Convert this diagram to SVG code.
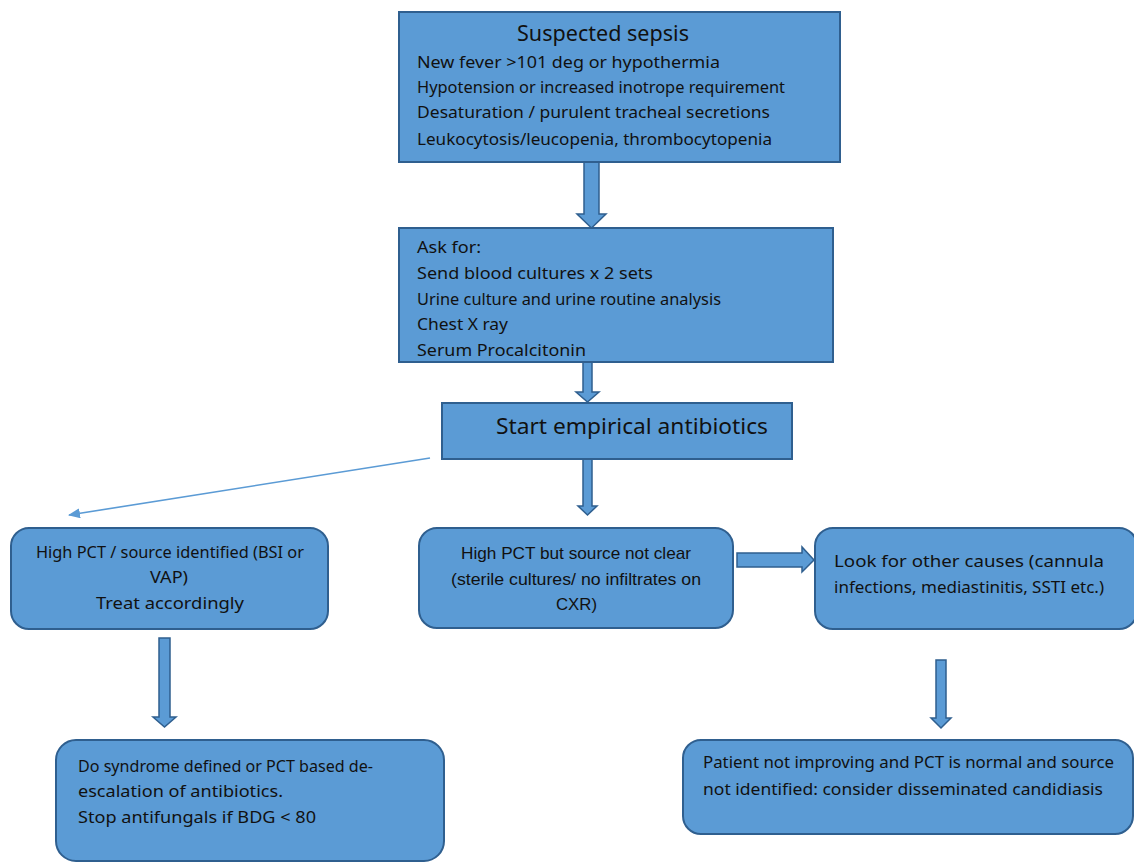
<svg xmlns="http://www.w3.org/2000/svg" width="1134" height="862" viewBox="0 0 1134 862">
<style>
.box{fill:#5b9bd5;stroke:#2f5f8f;stroke-width:2}
.arr{fill:#5b9bd5;stroke:#2f5f8f;stroke-width:1.5;stroke-linejoin:miter}
.t{font-family:"Noto Sans","DejaVu Sans",sans-serif;font-size:17px;fill:#111}
.tn{font-family:"Liberation Sans",Arial,sans-serif;font-size:17px;fill:#111}
.tl{font-family:"Noto Sans","DejaVu Sans",sans-serif;font-size:22px;fill:#111}
.thin{stroke:#5b9bd5;stroke-width:1.6;fill:none}
</style>
<defs>
<marker id="ah" viewBox="0 0 12 10" refX="11" refY="5" markerWidth="12" markerHeight="10" markerUnits="userSpaceOnUse" orient="auto">
<path d="M0,0 L12,5 L0,10 Z" fill="#5b9bd5"/>
</marker>
</defs>
<rect width="1134" height="862" fill="#ffffff"/>
<g id="connectors">
<path class="arr" d="M584,162 L599,162 L599,214 L606,214 L591.5,228 L577,214 L584,214 Z"/>
<path class="arr" d="M583,362 L592,362 L592,392 L599,392 L587.5,402 L576,392 L583,392 Z"/>
<path class="arr" d="M583,459 L592,459 L592,506 L597,506 L587.5,515 L578,506 L583,506 Z"/>
<line class="thin" x1="430" y1="458" x2="69" y2="515" marker-end="url(#ah)"/>
<path class="arr" d="M737,553 L802,553 L802,547 L814,560 L802,572 L802,567 L737,567 Z"/>
<path class="arr" d="M159,638 L170,638 L170,717 L176,717 L164.5,727 L153,717 L159,717 Z"/>
<path class="arr" d="M936,660 L946,660 L946,718 L951,718 L941,728 L931,718 L936,718 Z"/>
</g>
<g id="suspected-sepsis">
<rect class="box" x="399" y="12" width="441" height="150"/>
<text class="tl" x="517" y="41" textLength="172" lengthAdjust="spacingAndGlyphs">Suspected sepsis</text>
<text class="t" x="417" y="68" textLength="303" lengthAdjust="spacingAndGlyphs">New fever &gt;101 deg or hypothermia</text>
<text class="t" x="417" y="93" textLength="368" lengthAdjust="spacingAndGlyphs">Hypotension or increased inotrope requirement</text>
<text class="t" x="417" y="118" textLength="353" lengthAdjust="spacingAndGlyphs">Desaturation / purulent tracheal secretions</text>
<text class="t" x="417" y="145" textLength="355" lengthAdjust="spacingAndGlyphs">Leukocytosis/leucopenia, thrombocytopenia</text>
</g>
<g id="ask-for">
<rect class="box" x="399" y="228" width="434" height="134"/>
<text class="t" x="417" y="253" textLength="64" lengthAdjust="spacingAndGlyphs">Ask for:</text>
<text class="t" x="417" y="279" textLength="236" lengthAdjust="spacingAndGlyphs">Send blood cultures x 2 sets</text>
<text class="t" x="417" y="305" textLength="304" lengthAdjust="spacingAndGlyphs">Urine culture and urine routine analysis</text>
<text class="t" x="417" y="330" textLength="91" lengthAdjust="spacingAndGlyphs">Chest X ray</text>
<text class="t" x="417" y="356" textLength="169" lengthAdjust="spacingAndGlyphs">Serum Procalcitonin</text>
</g>
<g id="start-empirical">
<rect class="box" x="442" y="403" width="350" height="56"/>
<text class="tl" x="496" y="434" textLength="272" lengthAdjust="spacingAndGlyphs">Start empirical antibiotics</text>
</g>
<g id="high-pct-source">
<rect class="box" x="11" y="528" width="317" height="101" rx="18"/>
<text class="t" x="36" y="558" textLength="268" lengthAdjust="spacingAndGlyphs">High PCT / source identified (BSI or</text>
<text class="t" x="150" y="583" textLength="38" lengthAdjust="spacingAndGlyphs">VAP)</text>
<text class="t" x="96" y="609" textLength="148" lengthAdjust="spacingAndGlyphs">Treat accordingly</text>
</g>
<g id="high-pct-unclear">
<rect class="box" x="419" y="528" width="314" height="100" rx="18"/>
<text class="tn" x="461" y="559" textLength="230" lengthAdjust="spacingAndGlyphs">High PCT but source not clear</text>
<text class="tn" x="451" y="585" textLength="250" lengthAdjust="spacingAndGlyphs">(sterile cultures/ no infiltrates on</text>
<text class="tn" x="556" y="610" textLength="41" lengthAdjust="spacingAndGlyphs">CXR)</text>
</g>
<g id="other-causes">
<rect class="box" x="815" y="528" width="322" height="101" rx="18"/>
<text class="t" x="834" y="567" textLength="270" lengthAdjust="spacingAndGlyphs">Look for other causes (cannula</text>
<text class="t" x="834" y="593" textLength="270" lengthAdjust="spacingAndGlyphs">infections, mediastinitis, SSTI etc.)</text>
</g>
<g id="de-escalation">
<rect class="box" x="56" y="740" width="388" height="121" rx="20"/>
<text class="t" x="78" y="772" textLength="295" lengthAdjust="spacingAndGlyphs">Do syndrome defined or PCT based de-</text>
<text class="t" x="78" y="797" textLength="205" lengthAdjust="spacingAndGlyphs">escalation of antibiotics.</text>
<text class="t" x="78" y="823" textLength="238" lengthAdjust="spacingAndGlyphs">Stop antifungals if BDG &lt; 80</text>
</g>
<g id="candidiasis">
<rect class="box" x="683" y="740" width="450" height="94" rx="18"/>
<text class="t" x="703" y="768" textLength="411" lengthAdjust="spacingAndGlyphs">Patient not improving and PCT is normal and source</text>
<text class="t" x="703" y="795" textLength="400" lengthAdjust="spacingAndGlyphs">not identified: consider disseminated candidiasis</text>
</g>
</svg>
